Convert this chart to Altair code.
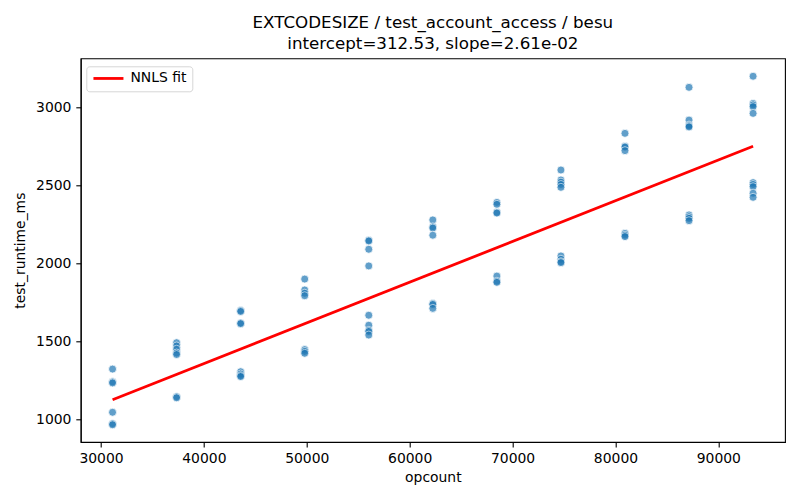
import altair as alt
import pandas as pd

# opcount columns
opcounts = [31125, 37350, 43575, 49800, 56025, 62250, 68475, 74700, 80925, 87150, 93375]

# runtime values (ms) per opcount column
runtimes = [
    [1322, 1240, 1233, 1045, 972, 965],
    [1491, 1470, 1449, 1425, 1415, 1145, 1138],
    [1697, 1691, 1618, 1613, 1305, 1290, 1280, 1274],
    [1899, 1829, 1808, 1792, 1447, 1435, 1423],
    [2148, 2143, 2090, 1983, 1667, 1603, 1570, 1563, 1540],
    [2278, 2234, 2226, 2180, 1742, 1736, 1711],
    [2390, 2378, 2327, 2322, 1918, 1885, 1878],
    [2598, 2534, 2520, 2505, 2487, 2047, 2026, 2010, 2004],
    [2833, 2750, 2745, 2722, 2192, 2180, 2171],
    [3128, 2918, 2886, 2880, 2874, 2310, 2298, 2288, 2273],
    [3199, 3025, 3015, 3004, 2961, 2517, 2505, 2491, 2449, 2423],
]

# fitted line end points
fit_x = [31125, 93375]
fit_y = [1125, 2750]
fit_label = "NNLS fit"

title_lines = ["EXTCODESIZE / test_account_access / besu", "intercept=312.53, slope=2.61e-02"]

x_ticks = [30000, 40000, 50000, 60000, 70000, 80000, 90000]
y_ticks = [1000, 1500, 2000, 2500, 3000]

rows = []
for x, ys in zip(opcounts, runtimes):
    for y in ys:
        rows.append({"opcount": x, "test_runtime_ms": y})
pts = pd.DataFrame(rows)
fit = pd.DataFrame({"opcount": fit_x, "test_runtime_ms": fit_y, "series": [fit_label] * 2})

FONT = "DejaVu Sans"
xscale = alt.Scale(domain=[28029, 96477], nice=False, zero=False)
yscale = alt.Scale(domain=[854.5, 3314], nice=False, zero=False)

xaxis = alt.Axis(values=x_ticks, format="d", title="opcount", titlePadding=5)
yaxis = alt.Axis(values=y_ticks, format="d", title="test_runtime_ms", titlePadding=8)

points = alt.Chart(pts).mark_circle(
    color="#1f77b4", opacity=0.7, size=64, stroke="white", strokeWidth=0.8
).encode(
    x=alt.X("opcount:Q", scale=xscale, axis=xaxis),
    y=alt.Y("test_runtime_ms:Q", scale=yscale, axis=yaxis),
)

line = alt.Chart(fit).mark_line(strokeWidth=2.8).encode(
    x=alt.X("opcount:Q", scale=xscale),
    y=alt.Y("test_runtime_ms:Q", scale=yscale),
    color=alt.Color(
        "series:N",
        scale=alt.Scale(domain=[fit_label], range=["#ff0000"]),
        legend=alt.Legend(
            title=None,
            orient="none",
            legendX=5.6,
            legendY=8,
            symbolType="M-1,0H5",
            symbolSize=100,
            symbolStrokeWidth=2.8,
            symbolFillColor="transparent",
            labelFont=FONT,
            labelFontSize=13.9,
            labelColor="black",
            labelOffset=25,
            padding=5.2,
            fillColor="white",
            strokeColor="#d6d6d6",
            cornerRadius=3,
        ),
    ),
)

chart = alt.layer(points, line).properties(
    width=704.3,
    height=383.7,
    title=alt.TitleParams(
        text=title_lines,
        font=FONT,
        fontSize=16.7,
        fontWeight="normal",
        color="black",
        anchor="middle",
        offset=6,
        lineHeight=21,
    ),
    autosize=alt.AutoSizeParams(type="none"),
    padding={"left": 72.7, "top": 50.3, "right": 7, "bottom": 50},
).configure_view(
    stroke="black", strokeWidth=1.1
).configure_axis(
    labelFont=FONT,
    labelFontSize=13.9,
    labelColor="black",
    titleFont=FONT,
    titleFontSize=13.9,
    titleFontWeight="normal",
    titleColor="black",
    tickColor="black",
    tickSize=4.9,
    tickWidth=1.1,
    domainColor="black",
    domainWidth=1.1,
    labelPadding=4.9,
    grid=False,
)

chart.save("out.html", embed_options={"renderer": "svg", "actions": False})
